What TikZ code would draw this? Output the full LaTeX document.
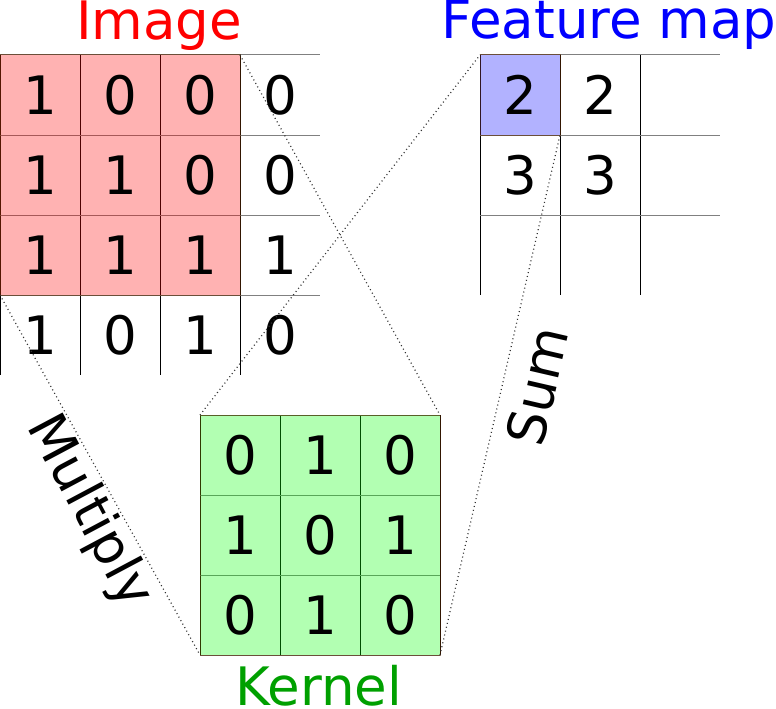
\documentclass[tikz,border=0pt]{standalone}
\usepackage{fontspec}
\setmainfont{DejaVu Sans}
\begin{document}
\begin{tikzpicture}[x=1pt,y=-1pt,
  vline/.style={draw=black,line width=1pt},
  hline/.style={draw=black!50,line width=1pt},
  win/.style={inner sep=0pt,outer sep=0pt,fill opacity=0.3,draw opacity=0.55,line width=1pt,draw={rgb,255:red,90;green,40;blue,0}},
  digit/.style={inner sep=0pt,font=\fontsize{53}{60}\selectfont},
  title/.style={inner sep=0pt,anchor=base,font=\fontsize{53}{60}\selectfont},
  conn/.style={draw=black!80,line width=1.2pt,dash pattern=on 1pt off 3pt}]
\useasboundingbox (0,0) rectangle (776,709);
% image grid
\foreach \x in {0,80,160,240} \draw[vline] (\x,55) -- (\x,375);
\foreach \y in {55,135,215,295} \draw[hline] (0,\y) -- (320,\y);
% feature map grid
\foreach \x in {480,560,640} \draw[vline] (\x,55) -- (\x,295);
\foreach \y in {55,135,215} \draw[hline] (480,\y) -- (720,\y);
% kernel grid
\foreach \x in {200,280,360,440} \draw[vline] (\x,415) -- (\x,655);
\foreach \y in {415,495,575,655} \draw[hline] (200,\y) -- (440,\y);
% coloured windows
\node[win,fill=red,minimum width=240pt,minimum height=240pt] (imgwin) at (120,175) {};
\node[win,fill=blue,minimum width=80pt,minimum height=80pt] (fcell) at (520,95) {};
\node[win,fill=green,minimum width=240pt,minimum height=240pt] (kernel) at (320,535) {};
% image digits
\foreach \r/\row in {1/{1,0,0,0},2/{1,1,0,0},3/{1,1,1,1},4/{1,0,1,0}}{
  \foreach \v [count=\c] in \row {
    \node[digit] (i\r\c) at ({80*\c-40},{15+80*\r}) {\v};
  }
}
% kernel digits
\foreach \r/\row in {1/{0,1,0},2/{1,0,1},3/{0,1,0}}{
  \foreach \v [count=\c] in \row {
    \node[digit] (k\r\c) at ({160+80*\c},{375+80*\r}) {\v};
  }
}
% feature map digits
\node[digit] (f11) at (520,95) {2};
\node[digit] (f12) at (600,95) {2};
\node[digit] (f21) at (520,175) {3};
\node[digit] (f22) at (600,175) {3};
% titles
\node[title,text=red] (timg) at (159,40) {Image};
\node[title,text=blue] (tfeat) at (609,38) {Feature map};
\node[title,text={rgb,255:red,0;green,160;blue,0}] (tker) at (319,705) {Kernel};
% connectors
\draw[conn] (imgwin.north east) -- (kernel.north east);
\draw[conn] (imgwin.south west) -- (kernel.south west);
\draw[conn] (kernel.north west) -- (fcell.north west);
\draw[conn] (kernel.south east) -- (fcell.south east);
% labels
\node[digit,rotate=-62] (lmul) at (89,512) {Multiply};
\node[digit,rotate=77] (lsum) at (537,386) {Sum};
\end{tikzpicture}
\end{document}
